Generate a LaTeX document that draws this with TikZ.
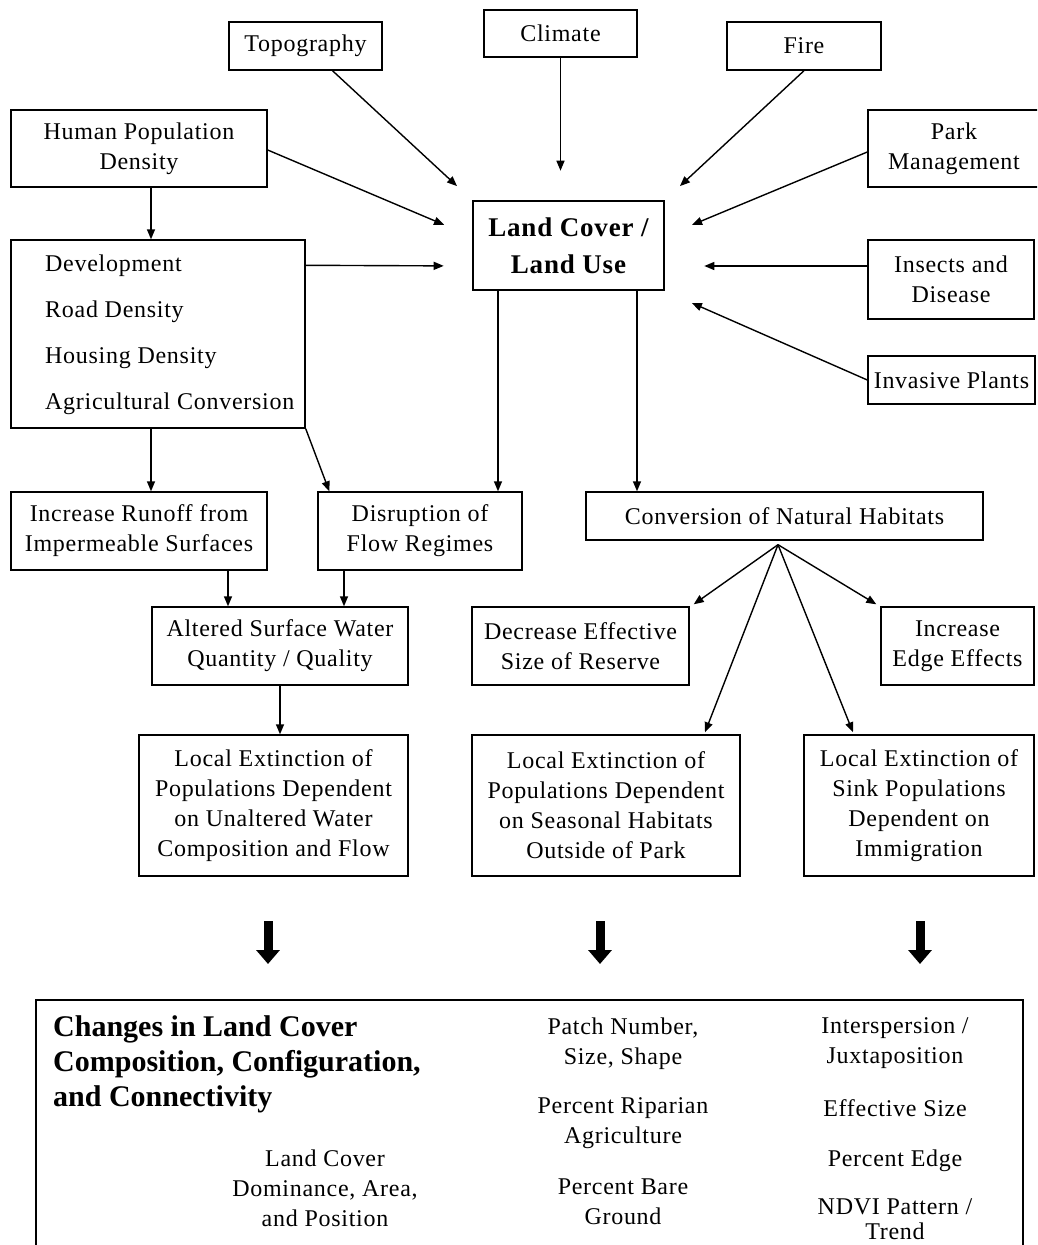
\documentclass[tikz,border=0pt]{standalone}
\usepackage{fontspec}
\setmainfont{Liberation Serif}[LetterSpace=3]
\newfontfamily\titlefont{Liberation Serif}
\usetikzlibrary{arrows.meta,calc}

\newcommand\nodefont{\fontsize{24}{30}\selectfont}
\newcommand\mainfont{\fontsize{27}{37}\selectfont\bfseries}
\newcommand\headfont{\titlefont\fontsize{30}{35}\selectfont\bfseries}

\tikzset{
  box/.style={draw, line width=1.4pt, inner sep=0pt, align=center, font=\nodefont},
  mainbox/.style={draw, line width=2.6pt, inner sep=0pt, align=center, font=\mainfont},
  wh/.style 2 args={minimum width=#1pt, minimum height=#2pt},
  txt/.style={inner sep=0pt, align=center, font=\nodefont},
  arr/.style={line width=1.4pt, -{Triangle[length=10pt,width=8pt]}},
  blk/.style={line width=9pt, -{Triangle[length=14pt,width=23pt]}}
}

\begin{document}
\begin{tikzpicture}[x=1pt,y=-1pt]
\useasboundingbox (0,0) rectangle (1037,1245);
\clip (0,0) rectangle (1037,1245);
\fill[white] (0,0) rectangle (1037,1245);

% drivers of land cover change
\node[box, wh={153}{48}] (topo) at (305.5,46) {Topography};
\node[box, wh={153}{47}] (climate) at (560.5,33.5) {Climate};
\node[box, wh={154}{48}] (fire) at (804,46) {Fire};
\node[box, wh={256}{77}] (hpd) at (139,148.5) {Human Population\\Density};
\node[box, wh={172}{77}] (park) at (954,148.5) {Park\\Management};
\node[mainbox, wh={191}{89}] (lclu) at (568.5,245.5) {Land Cover /\\Land Use};
\node[box, wh={294}{188}] (dev) at (158,334) {};
\node[txt, align=left, anchor=west] (devlist) at (45,335)
  {Development\\[16pt]Road Density\\[16pt]Housing Density\\[16pt]Agricultural Conversion};
\node[box, wh={166}{79}] (insects) at (951,279.5) {Insects and\\Disease};
\node[box, wh={167}{48}] (invasive) at (951.5,380) {Invasive Plants};

% consequences
\node[box, wh={256}{78}] (runoff) at (139,531) {Increase Runoff from\\Impermeable Surfaces};
\node[box, wh={204}{78}] (disrupt) at (420,531) {Disruption of\\Flow Regimes};
\node[box, wh={397}{48}] (conv) at (784.5,516) {Conversion of Natural Habitats};
\node[box, wh={256}{78}] (altered) at (280,646) {Altered Surface Water\\Quantity / Quality};
\node[box, wh={217}{78}] (decrease) at (580.5,646) {Decrease Effective\\Size of Reserve};
\node[box, wh={153}{78}] (edge) at (957.5,646) {Increase\\Edge Effects};
\node[box, wh={269}{141}] (le1) at (273.5,805.5)
  {Local Extinction of\\Populations Dependent\\on Unaltered Water\\Composition and Flow};
\node[box, wh={268}{141}] (le2) at (606,805.5)
  {Local Extinction of\\Populations Dependent\\on Seasonal Habitats\\Outside of Park};
\node[box, wh={230}{141}] (le3) at (919,805.5)
  {Local Extinction of\\Sink Populations\\Dependent on\\Immigration};

% arrows into land cover / land use
\draw[arr, shorten >=20pt] ([xshift=27pt]topo.south) -- (lclu.north west);
\draw[arr, shorten >=29pt] (climate.south) -- (climate.south |- lclu.north);
\draw[arr, shorten >=20pt] (fire.south) -- (lclu.north east);
\draw[arr, shorten >=30pt] ($(hpd.east)+(0,1.5)$) -- ($(lclu.west)+(0,-9)$);
\draw[arr, shorten >=29pt] ($(park.west)+(0,3.5)$) -- ($(lclu.east)+(0,-9.5)$);
\draw[arr, shorten >=28pt] ($(dev.north east)+(0,26)$) -- ($(lclu.west)+(0,20.5)$);
\draw[arr, shorten >=39pt] ($(insects.west)+(0,-13.5)$) -- ($(lclu.east)+(0,20.5)$);
\draw[arr, shorten >=29pt] (invasive.west) -- (lclu.south east);

% downstream arrows
\draw[arr] ([xshift=12pt]hpd.south) -- ([xshift=12pt]hpd.south |- dev.north);
\draw[arr] ([xshift=-70.5pt]lclu.south) -- ([xshift=-70.5pt]lclu.south |- disrupt.north);
\draw[arr] ([xshift=68.5pt]lclu.south) -- ([xshift=68.5pt]lclu.south |- conv.north);
\draw[arr] ([xshift=-7pt]dev.south) -- ([xshift=-7pt]dev.south |- runoff.north);
\draw[arr] (dev.south east) -- ($(disrupt.north west)+(12,0)$);
\draw[arr] ([xshift=89pt]runoff.south) -- ([xshift=89pt]runoff.south |- altered.north);
\draw[arr] ([xshift=-76pt]disrupt.south) -- ([xshift=-76pt]disrupt.south |- altered.north);
\draw[arr] (altered.south) -- (altered.south |- le1.north);

% fan out of habitat conversion
\coordinate (fan) at ($(conv.south)+(-6.5,4)$);
\draw[arr] (fan) -- ($(decrease.north east)+(4,-2)$);
\draw[arr] (fan) -- ($(le2.north)+(99,-2)$);
\draw[arr] (fan) -- ($(le3.north)+(-66,-2)$);
\draw[arr] (fan) -- ($(edge.north west)+(-4,-2)$);

% block arrows toward the landscape metrics
\coordinate (b1s) at (268,921); \coordinate (b1e) at (268,964);
\coordinate (b2s) at (600,921); \coordinate (b2e) at (600,964);
\coordinate (b3s) at (920,921); \coordinate (b3e) at (920,964);
\draw[blk] (b1s) -- (b1e);
\draw[blk] (b2s) -- (b2e);
\draw[blk] (b3s) -- (b3e);

% landscape metrics panel
\node[draw, line width=1.6pt, wh={987}{280}] (metrics) at (529.5,1140) {};
\node[inner sep=0pt, align=left, anchor=west, font=\headfont] (head) at (53,1064.5)
  {Changes in Land Cover\\Composition, Configuration,\\and Connectivity};
\node[txt] (lcd) at (325,1188) {Land Cover\\Dominance, Area,\\and Position};
\node[txt] (patch) at (623,1043.5) {Patch Number,\\Size, Shape};
\node[txt] (ripar) at (623,1123) {Percent Riparian\\Agriculture};
\node[txt] (bare) at (623,1202) {Percent Bare\\Ground};
\node[txt] (inter) at (895,1043.5) {Interspersion /\\Juxtaposition};
\node[txt] (effs) at (895,1108) {Effective Size};
\node[txt] (pedge) at (895,1161) {Percent Edge};
\node[txt] (ndvi) at (895,1219.5) {NDVI Pattern /\\[-5pt]Trend};
\end{tikzpicture}
\end{document}
